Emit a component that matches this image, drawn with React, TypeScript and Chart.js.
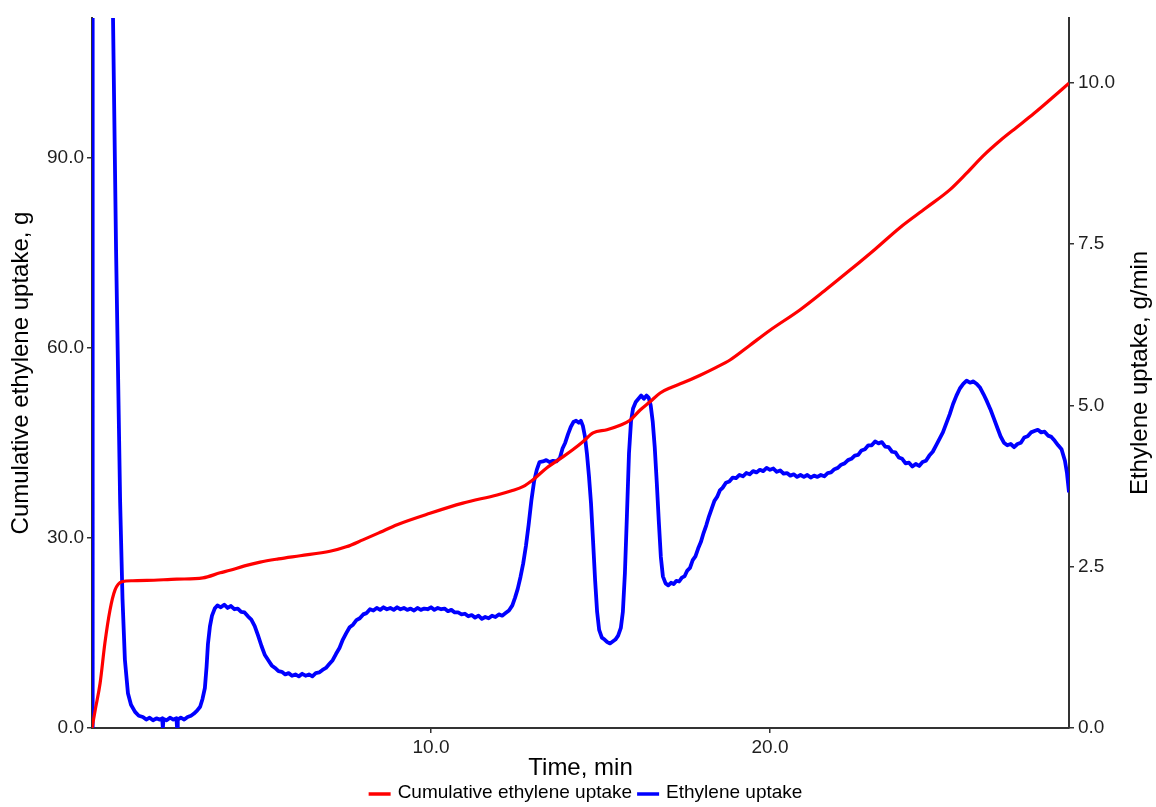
import { useEffect, useRef } from "react";
import { Chart, registerables } from "chart.js";

Chart.register(...registerables);

// Cumulative ethylene uptake (g) against time (min)
const cumTime = [
  0, 0.1, 0.24, 0.38, 0.53, 0.68, 0.88, 1.2, 1.62, 2.5, 3.27, 3.78, 4.07, 4.5, 4.96, 5.5, 6.14, 7.02,
  7.5, 7.99, 8.5, 9.0, 9.97, 10.94, 11.95, 12.4, 12.71, 13.01, 13.42, 13.89, 14.2, 14.48, 14.78, 15.19,
  15.58, 15.87, 16.17, 16.46, 16.76, 17.1, 17.43, 17.94, 18.4, 18.82, 19.4, 20.0, 20.88, 21.6, 22.36,
  23.1, 23.83, 24.6, 25.31, 25.8, 26.28, 26.8, 27.29, 27.8, 28.26, 28.82,
];
const cumUptake = [
  0, 3.0, 7.1, 13.4, 18.6, 21.8, 23.1, 23.25, 23.3, 23.5, 23.7, 24.5, 24.9, 25.6, 26.2, 26.7, 27.2, 27.9,
  28.6, 29.7, 30.9, 32.1, 33.9, 35.5, 36.8, 37.5, 38.1, 39.2, 41.1, 42.8, 44.0, 45.2, 46.6, 47.1,
  47.8, 48.6, 50.2, 51.5, 52.9, 53.8, 54.5, 55.7, 56.9, 58.1, 60.4, 62.8, 66.0, 69.0, 72.3,
  75.6, 79.0, 82.1, 85.0, 87.6, 90.3, 92.8, 94.9, 97.1, 99.2, 101.8,
];

// Ethylene uptake rate (g/min) against time (min)
const rateTime = [
  0, 0.02, 0.58, 0.62, 0.71, 0.83, 0.9, 0.97, 1.06, 1.15, 1.27, 1.38, 1.5, 1.6, 1.7, 1.8, 1.9, 2.0,
  2.07, 2.09, 2.11, 2.2, 2.3, 2.4, 2.49, 2.51, 2.53, 2.62, 2.72, 2.82, 2.92, 3.0, 3.1, 3.19, 3.26,
  3.33, 3.38, 3.42, 3.48, 3.54, 3.62, 3.7,
  3.8, 3.9, 4.0, 4.1, 4.2, 4.3, 4.4, 4.5, 4.6, 4.7, 4.8, 4.9, 5.0, 5.1, 5.2, 5.3, 5.4, 5.5, 5.6, 5.7,
  5.8, 5.9, 6.0, 6.1, 6.2, 6.3, 6.4, 6.5, 6.6, 6.7, 6.8, 6.9, 7.0, 7.1, 7.2, 7.3, 7.4, 7.5, 7.6, 7.7,
  7.8, 7.9, 8.0, 8.1, 8.2, 8.3, 8.4, 8.5, 8.6, 8.7, 8.8, 8.9, 9.0, 9.1, 9.2, 9.3, 9.4, 9.5, 9.6, 9.7,
  9.8, 9.9, 10.0, 10.1, 10.2, 10.3, 10.4, 10.5, 10.6, 10.7, 10.8, 10.9, 11.0, 11.1, 11.2, 11.3, 11.4,
  11.5, 11.6, 11.7, 11.8, 11.9, 12.0, 12.1, 12.2, 12.3, 12.4,
  12.48, 12.56, 12.64, 12.72, 12.8, 12.88, 12.96, 13.04, 13.12, 13.2, 13.3, 13.4, 13.5, 13.6, 13.7,
  13.8, 13.88, 13.96, 14.04, 14.12, 14.2, 14.28, 14.36, 14.42, 14.48, 14.54, 14.6, 14.66, 14.72,
  14.78, 14.84, 14.9, 14.96, 15.04, 15.12, 15.2, 15.28, 15.36, 15.44, 15.52, 15.6, 15.66, 15.72,
  15.78, 15.84, 15.9, 15.96, 16.04, 16.12, 16.2, 16.28, 16.36, 16.42, 16.48, 16.54, 16.6, 16.66,
  16.72, 16.78, 16.84, 16.92, 17.0, 17.08, 17.16, 17.24, 17.32, 17.4, 17.48, 17.56, 17.64, 17.72,
  17.8, 17.88, 17.96, 18.04, 18.12, 18.2, 18.28, 18.36, 18.44, 18.52, 18.6,
  18.7, 18.8, 18.9, 19.0, 19.1, 19.2, 19.3, 19.4, 19.5, 19.6, 19.7, 19.8, 19.9, 20.0, 20.1, 20.2,
  20.3, 20.4, 20.5, 20.6, 20.7, 20.8, 20.9, 21.0, 21.1, 21.2, 21.3, 21.4, 21.5, 21.6, 21.7, 21.8,
  21.9, 22.0, 22.1, 22.2, 22.3, 22.4, 22.5, 22.6, 22.7, 22.8, 22.9, 23.0, 23.1, 23.2, 23.3, 23.4,
  23.5, 23.6, 23.7, 23.8, 23.9, 24.0, 24.1, 24.2, 24.3, 24.4, 24.5, 24.6, 24.7, 24.8, 24.9, 25.0,
  25.1, 25.2, 25.3, 25.4, 25.5, 25.6, 25.7, 25.8, 25.9, 26.0, 26.1, 26.2, 26.3, 26.4, 26.5, 26.6,
  26.7, 26.8, 26.9, 27.0, 27.1, 27.2, 27.3, 27.4, 27.5, 27.6, 27.7, 27.8, 27.9, 28.0, 28.1, 28.2,
  28.3, 28.4, 28.5, 28.6, 28.7, 28.76, 28.82,
];
const rateUptake = [
  0, 14, 14, 11.0, 7.4, 3.5, 2.0, 1.06, 0.54, 0.36, 0.25, 0.19, 0.17, 0.13, 0.16, 0.12, 0.15, 0.13,
  0.15, 0, 0.14, 0.12, 0.16, 0.13, 0.15, 0, 0.13, 0.16, 0.13, 0.17, 0.19, 0.22, 0.27, 0.33, 0.45,
  0.62, 0.95, 1.3, 1.58, 1.74, 1.85, 1.9,
  1.87, 1.91, 1.86, 1.89, 1.84, 1.85, 1.8, 1.79, 1.73, 1.68, 1.58, 1.43, 1.27, 1.13, 1.05, 0.97, 0.93,
  0.88, 0.87, 0.83, 0.85, 0.81, 0.83, 0.8, 0.84, 0.81, 0.83, 0.8, 0.85, 0.86, 0.9, 0.93, 0.99, 1.05,
  1.15, 1.24, 1.37, 1.47, 1.56, 1.6, 1.67, 1.7, 1.76, 1.78, 1.84, 1.82, 1.86, 1.83, 1.87, 1.84, 1.86,
  1.83, 1.87, 1.84, 1.86, 1.83, 1.85, 1.82, 1.86, 1.83, 1.85, 1.84, 1.87, 1.83, 1.86, 1.84, 1.85,
  1.81, 1.83, 1.79, 1.79, 1.76, 1.77, 1.73, 1.75, 1.71, 1.74, 1.69, 1.72, 1.7, 1.74, 1.72, 1.76,
  1.74, 1.78, 1.82, 1.9,
  2.02, 2.16, 2.34, 2.55, 2.82, 3.15, 3.52, 3.82, 4.0, 4.12, 4.13, 4.15, 4.12, 4.14, 4.13,
  4.18, 4.33, 4.42, 4.55, 4.66, 4.74, 4.76, 4.73, 4.76, 4.68, 4.52, 4.25, 3.9, 3.48,
  2.9, 2.3, 1.8, 1.52, 1.4, 1.37, 1.33, 1.31, 1.34, 1.37, 1.43, 1.55, 1.8, 2.4,
  3.3, 4.25, 4.75, 4.95, 5.05, 5.1, 5.15, 5.1, 5.15, 5.12, 5.0, 4.75, 4.35, 3.8,
  3.2, 2.65, 2.35, 2.24, 2.21, 2.25, 2.23, 2.28, 2.27, 2.33, 2.35, 2.44, 2.48, 2.6,
  2.66, 2.78, 2.88, 3.02, 3.14, 3.28, 3.4, 3.52, 3.58, 3.68, 3.72,
  3.8, 3.82, 3.88, 3.87, 3.92, 3.9, 3.95, 3.93, 3.98, 3.96, 4.0, 3.98, 4.03, 4.0, 4.02, 3.97,
  3.99, 3.94, 3.95, 3.91, 3.93, 3.89, 3.92, 3.89, 3.92, 3.88, 3.91, 3.89, 3.92, 3.9, 3.95, 3.96,
  4.01, 4.03, 4.08, 4.1, 4.15, 4.17, 4.22, 4.23, 4.3, 4.32, 4.38, 4.38, 4.44, 4.41, 4.43, 4.36,
  4.35, 4.28, 4.27, 4.19, 4.17, 4.1, 4.11, 4.05, 4.09, 4.06, 4.12, 4.14, 4.22, 4.28, 4.38, 4.48,
  4.58, 4.72, 4.86, 5.02, 5.15, 5.26, 5.33, 5.38, 5.35, 5.37, 5.33, 5.27, 5.17, 5.06, 4.94, 4.8,
  4.66, 4.52, 4.42, 4.38, 4.4, 4.35, 4.4, 4.42, 4.5, 4.52, 4.58, 4.6, 4.62, 4.58, 4.59, 4.53,
  4.51, 4.45, 4.38, 4.32, 4.14, 3.95, 3.65,
];

// Axis ranges and tick positions
const timeMax = 28.82;
const cumMax = 112.1;
const rateMax = 11.0;
const timeTicks = [10, 20];
const cumTicks = [0, 30, 60, 90];
const rateTicks = [0, 2.5, 5, 7.5, 10];

const FONT = "'Liberation Sans', Arial, Helvetica, sans-serif";
const AXIS_COLOR = "#333333";
const TICK_TEXT = "#1f1f1f";

// Right-hand axis title (reads bottom to top) and the legend row under the axis title
const extrasPlugin = {
  id: "extras",
  afterDraw(chart: any) {
    const ctx = chart.ctx as CanvasRenderingContext2D;
    const area = chart.chartArea;
    const right = chart.scales.yRate;
    ctx.save();
    ctx.font = `24px ${FONT}`;
    ctx.fillStyle = "#000";
    ctx.textAlign = "center";
    ctx.textBaseline = "middle";
    ctx.translate(right.right - 16, (area.top + area.bottom) / 2);
    ctx.rotate(-Math.PI / 2);
    ctx.fillText("Ethylene uptake, g/min", 0, 0);
    ctx.restore();

    ctx.save();
    ctx.font = `19px ${FONT}`;
    ctx.textBaseline = "middle";
    ctx.textAlign = "left";
    const keyW = 22;
    const gapKey = 7;
    const gapItem = 5;
    const items = chart.data.datasets.map((d: any) => ({
      label: d.label as string,
      color: d.borderColor as string,
      w: ctx.measureText(d.label).width,
    }));
    const total = items.reduce((s: number, it: any) => s + keyW + gapKey + it.w, 0) + gapItem * (items.length - 1);
    let x = (area.left + area.right) / 2 + 5 - total / 2;
    const y = 793;
    for (const it of items) {
      ctx.strokeStyle = it.color;
      ctx.lineWidth = 3.5;
      ctx.beginPath();
      ctx.moveTo(x, y + 1);
      ctx.lineTo(x + keyW, y + 1);
      ctx.stroke();
      x += keyW + gapKey;
      ctx.fillStyle = "#000";
      ctx.fillText(it.label, x, y);
      x += it.w + gapItem;
    }
    ctx.restore();
  },
};

export default function App() {
  const canvasRef = useRef<HTMLCanvasElement>(null);

  useEffect(() => {
    document.body.style.margin = "0";
    const canvas = canvasRef.current;
    if (!canvas) return;

    const cumPoints = cumTime.map((t, i) => ({ x: t, y: cumUptake[i] }));
    const ratePoints = rateTime.map((t, i) => ({ x: t, y: rateUptake[i] }));

    const tickFont = { family: FONT, size: 19 };
    const tickGrid = {
      display: true,
      drawOnChartArea: false,
      drawTicks: true,
      tickLength: 5,
      color: AXIS_COLOR,
      lineWidth: 1.5,
    };
    const axisBorder = { display: true, color: AXIS_COLOR, width: 2 };

    const chart = new Chart(canvas, {
      type: "line",
      data: {
        datasets: [
          {
            label: "Cumulative ethylene uptake",
            data: cumPoints,
            yAxisID: "yCum",
            borderColor: "#ff0000",
            backgroundColor: "#ff0000",
            borderWidth: 3.2,
            pointRadius: 0,
            cubicInterpolationMode: "monotone",
            fill: false,
          },
          {
            label: "Ethylene uptake",
            data: ratePoints,
            yAxisID: "yRate",
            borderColor: "#0000ff",
            backgroundColor: "#0000ff",
            borderWidth: 3.8,
            pointRadius: 0,
            tension: 0,
            borderJoinStyle: "round",
            fill: false,
          },
        ],
      },
      options: {
        responsive: false,
        maintainAspectRatio: false,
        devicePixelRatio: 1,
        animation: false,
        layout: { padding: { top: 18, left: 0, right: 0, bottom: 0 } },
        plugins: {
          legend: { display: false },
          tooltip: { enabled: false },
        },
        scales: {
          x: {
            type: "linear",
            min: 0,
            max: timeMax,
            afterBuildTicks: (s: any) => {
              s.ticks = timeTicks.map((v) => ({ value: v }));
            },
            afterFit: (s: any) => {
              s.height = 79;
            },
            ticks: {
              font: tickFont,
              color: TICK_TEXT,
              padding: 3,
              maxRotation: 0,
              autoSkip: false,
              callback: (v: any) => Number(v).toFixed(1),
            },
            grid: tickGrid,
            border: axisBorder,
            title: {
              display: true,
              text: "Time, min",
              color: "#000",
              font: { family: FONT, size: 24 },
              padding: { top: 0, bottom: 24 },
            },
          },
          yCum: {
            type: "linear",
            position: "left",
            min: 0,
            max: cumMax,
            afterBuildTicks: (s: any) => {
              s.ticks = cumTicks.map((v) => ({ value: v }));
            },
            afterFit: (s: any) => {
              s.width = 92;
            },
            ticks: {
              font: tickFont,
              color: TICK_TEXT,
              padding: 3,
              callback: (v: any) => Number(v).toFixed(1),
            },
            grid: tickGrid,
            border: axisBorder,
            title: {
              display: true,
              text: "Cumulative ethylene uptake, g",
              color: "#000",
              font: { family: FONT, size: 24 },
              padding: { top: 7, bottom: 0 },
            },
          },
          yRate: {
            type: "linear",
            position: "right",
            min: 0,
            max: rateMax,
            afterBuildTicks: (s: any) => {
              s.ticks = rateTicks.map((v) => ({ value: v }));
            },
            afterFit: (s: any) => {
              s.width = 87;
            },
            ticks: {
              font: tickFont,
              color: TICK_TEXT,
              padding: 4,
              callback: (v: any) => Number(v).toFixed(1),
            },
            grid: tickGrid,
            border: axisBorder,
          },
        },
      },
      plugins: [extrasPlugin],
    } as any);

    return () => chart.destroy();
  }, []);

  return (
    <div style={{ position: "absolute", left: 0, top: 0, width: 1156, height: 807, background: "#fff" }}>
      <canvas ref={canvasRef} width={1156} height={807} style={{ display: "block", width: 1156, height: 807 }} />
    </div>
  );
}
